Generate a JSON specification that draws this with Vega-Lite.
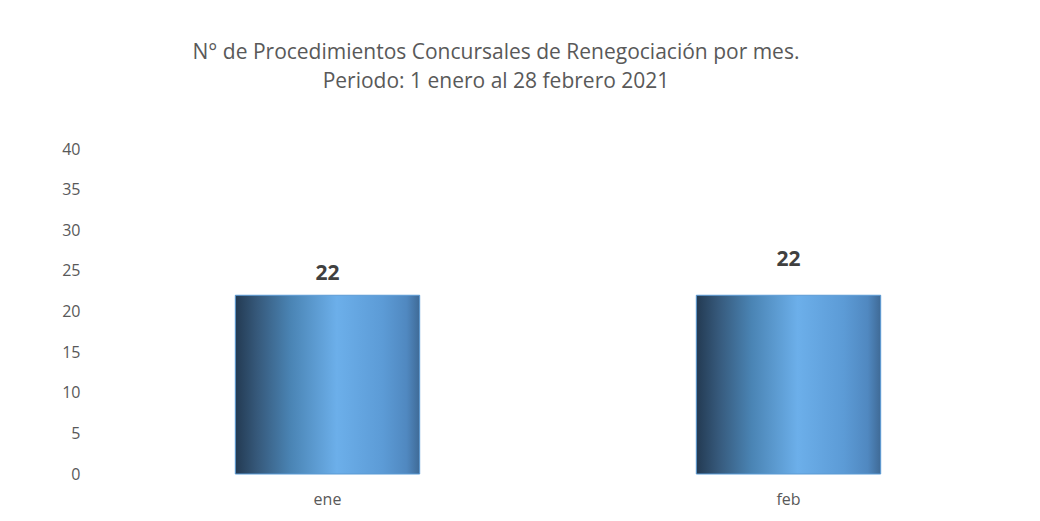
{
  "$schema": "https://vega.github.io/schema/vega-lite/v6.json",
  "autosize": {"type": "none"},
  "width": 922,
  "height": 325,
  "padding": {"left": 97, "top": 149, "right": 21, "bottom": 47},
  "background": "white",
  "config": {"view": {"stroke": null}},
  "title": {
    "text": ["N° de Procedimientos Concursales de Renegociación por mes.", "Periodo: 1 enero al 28 febrero 2021"],
    "anchor": "middle",
    "dx": -62,
    "offset": 49,
    "font": "Open Sans",
    "fontSize": 21,
    "fontWeight": "normal",
    "color": "#595959",
    "lineHeight": 29
  },
  "data": {
    "values": [
      {"mes": "ene", "valor": 22},
      {"mes": "feb", "valor": 22}
    ]
  },
  "encoding": {
    "x": {
      "field": "mes",
      "type": "nominal",
      "sort": null,
      "scale": {"paddingInner": 0.6, "paddingOuter": 0.3},
      "axis": {"title": null, "domain": false, "ticks": false, "labelAngle": 0, "labelPadding": 17, "labelFont": "Open Sans", "labelFontSize": 16, "labelColor": "#595959"}
    },
    "y": {
      "field": "valor",
      "type": "quantitative",
      "scale": {"domain": [0, 40]},
      "axis": {"title": null, "domain": false, "ticks": false, "grid": false, "values": [0, 5, 10, 15, 20, 25, 30, 35, 40], "labelPadding": 17, "labelFont": "Open Sans", "labelFontSize": 16, "labelColor": "#595959"}
    }
  },
  "layer": [
    {
      "mark": {
        "type": "bar",
        "stroke": "#5b9bd5",
        "strokeWidth": 1,
        "color": {
          "gradient": "linear",
          "x1": 0, "y1": 0, "x2": 1, "y2": 0,
          "stops": [
            {"offset": 0, "color": "#233a52"},
            {"offset": 0.12, "color": "#36597b"},
            {"offset": 0.3, "color": "#4a84b4"},
            {"offset": 0.55, "color": "#6cafea"},
            {"offset": 0.8, "color": "#5c9bd6"},
            {"offset": 0.93, "color": "#5088c0"},
            {"offset": 1, "color": "#3f6a96"}
          ]
        }
      }
    },
    {
      "transform": [{"filter": "datum.mes === 'ene'"}],
      "mark": {"type": "text", "baseline": "bottom", "dy": -11, "font": "Open Sans", "fontSize": 21, "fontWeight": "bold", "color": "#404040"},
      "encoding": {"text": {"field": "valor", "type": "quantitative"}}
    },
    {
      "transform": [{"filter": "datum.mes === 'feb'"}],
      "mark": {"type": "text", "baseline": "bottom", "dy": -25, "font": "Open Sans", "fontSize": 21, "fontWeight": "bold", "color": "#404040"},
      "encoding": {"text": {"field": "valor", "type": "quantitative"}}
    }
  ]
}
